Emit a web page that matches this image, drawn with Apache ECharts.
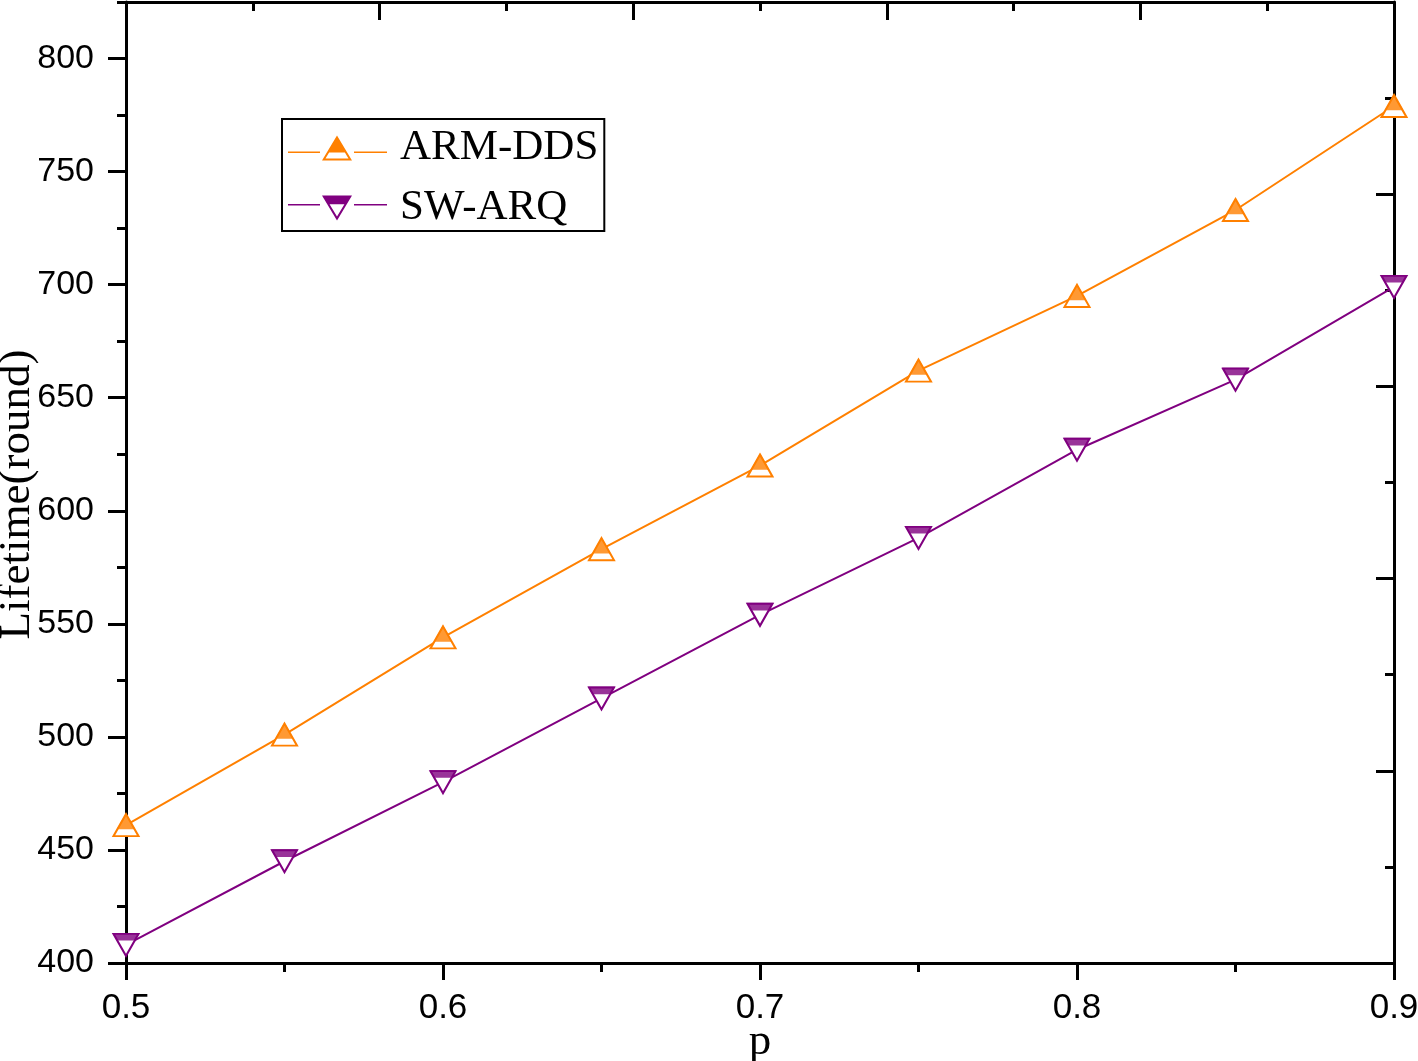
<!DOCTYPE html>
<html><head><meta charset="utf-8">
<script src="https://cdn.jsdelivr.net/npm/echarts@6/dist/echarts.min.js"></script>
<style>html,body{margin:0;padding:0;background:#fff}#c{width:1418px;height:1061px}</style>
</head><body><div id="c"></div>
<script>
const pValues = [0.5, 0.55, 0.6, 0.65, 0.7, 0.75, 0.8, 0.85, 0.9];
const armDds = [461, 501, 544, 583, 620, 662, 695, 733, 779];
const swArq = [408, 445, 480, 517, 554, 588, 627, 658, 699];
const yTickValues = [400, 450, 500, 550, 600, 650, 700, 750, 800];
const yMinorValues = [425, 475, 525, 575, 625, 675, 725, 775, 825];
const seriesNames = ['ARM-DDS', 'SW-ARQ'];

const ORANGE = '#FF8000';
const PURPLE = '#800080';
const BLACK = '#000';

const upIcon = 'path://M0 16.5L32 16.5L32 18L0 18Z' +
  'M49 0.5L59.2 17.5L38.8 17.5Z' +
  'M38.8 17.5L59.2 17.5L64 25.5L34 25.5Z' +
  'M41.1 17.5L37.5 23.5L60.5 23.5L56.9 17.5Z' +
  'M66 16.5L99 16.5L99 18L66 18Z';
const downIcon = 'path://M0 9L32 9L32 10.5L0 10.5Z' +
  'M34 0.5L64 0.5L58.75 9.25L39.25 9.25Z' +
  'M39.25 9.25L58.75 9.25L49 25.5Z' +
  'M41.58 9.25L49 21.6L56.42 9.25Z' +
  'M66 9L99 9L99 10.5L66 10.5Z';
const downTri = 'path://M0 0L10 0L5 10Z';
const downFill = 'path://M0 0L100 0L84 32L16 32Z';

const armData = pValues.map((p, i) => [p, armDds[i]]);
const swData = pValues.map((p, i) => [p, swArq[i]]);

const axLine = {show: true, lineStyle: {color: BLACK, width: 3}};
const tickStyle = {color: BLACK, width: 3};

const chart = echarts.init(document.getElementById('c'), null, {renderer: 'canvas'});
chart.setOption({
  animation: false,
  backgroundColor: '#fff',
  grid: {left: 126, right: 24, top: 2, bottom: 98, containLabel: false, outerBoundsMode: 'none'},
  xAxis: [
    {
      type: 'value', min: 0.5, max: 0.9, interval: 0.1, position: 'bottom',
      axisLine: axLine,
      axisTick: {show: true, inside: false, length: 17, lineStyle: tickStyle},
      minorTick: {show: true, splitNumber: 2, length: 9, lineStyle: tickStyle},
      splitLine: {show: false}, minorSplitLine: {show: false},
      axisLabel: {fontSize: 35, color: BLACK, fontFamily: 'Liberation Sans', margin: 28,
        formatter: v => v.toFixed(1)},
      name: 'p', nameLocation: 'middle', nameGap: 57, nameMoveOverlap: false,
      nameTextStyle: {fontFamily: 'Liberation Serif', fontSize: 45, color: BLACK}
    },
    {
      type: 'value', min: 0, max: 5, interval: 1, position: 'top',
      axisLine: axLine,
      axisTick: {show: true, inside: true, length: 18, lineStyle: tickStyle},
      minorTick: {show: true, splitNumber: 2, length: 9, lineStyle: tickStyle},
      splitLine: {show: false}, minorSplitLine: {show: false},
      axisLabel: {show: false}
    }
  ],
  yAxis: [
    {
      type: 'value', min: 400, max: 825, interval: 50, position: 'left',
      axisLine: axLine,
      axisTick: {show: true, inside: false, length: 18, lineStyle: tickStyle, customValues: yTickValues},
      splitLine: {show: false},
      axisLabel: {fontSize: 34, color: BLACK, fontFamily: 'Liberation Sans', margin: 32, customValues: yTickValues},
      name: 'Lifetime(round)', nameLocation: 'middle', nameGap: 86, nameMoveOverlap: false,
      nameTextStyle: {fontFamily: 'Liberation Serif', fontSize: 45, color: BLACK, padding: [0, 24, 0, 0]}
    },
    {
      type: 'value', min: 0, max: 5, interval: 1, position: 'right',
      axisLine: axLine,
      axisTick: {show: true, inside: true, length: 18, lineStyle: tickStyle},
      minorTick: {show: true, splitNumber: 2, length: 9, lineStyle: tickStyle},
      splitLine: {show: false}, minorSplitLine: {show: false},
      axisLabel: {show: false}
    },
    {
      type: 'value', min: 400, max: 825, position: 'left',
      axisLine: {show: false},
      axisTick: {show: true, inside: false, length: 9, lineStyle: tickStyle, customValues: yMinorValues},
      splitLine: {show: false},
      axisLabel: {show: false}
    }
  ],
  legend: {
    orient: 'vertical', left: 282, top: 119, padding: [7, 6, 1, 6],
    itemGap: 16, itemWidth: 99, itemHeight: 25,
    borderColor: BLACK, borderWidth: 2, backgroundColor: '#fff',
    textStyle: {fontFamily: 'Liberation Serif', fontSize: 43, color: BLACK, lineHeight: 44, padding: [0, 0, 0, 8]},
    data: [
      {name: seriesNames[0], icon: upIcon, itemStyle: {color: ORANGE, borderWidth: 0}},
      {name: seriesNames[1], icon: downIcon, itemStyle: {color: PURPLE, borderWidth: 0}}
    ]
  },
  series: [
    {
      name: seriesNames[0], type: 'line', data: armData,
      symbol: 'triangle', symbolSize: [25, 22],
      itemStyle: {color: '#fff', borderColor: ORANGE, borderWidth: 2},
      lineStyle: {color: ORANGE, width: 2}, z: 2
    },
    {
      name: seriesNames[0] + ' fill', type: 'scatter', data: armData,
      symbol: 'triangle', symbolSize: [18.4, 16.3], symbolOffset: [0, -3.9],
      itemStyle: {color: ORANGE}, silent: true, z: 3
    },
    {
      name: seriesNames[1], type: 'line', data: swData,
      symbol: downTri, symbolSize: [25, 22],
      itemStyle: {color: '#fff', borderColor: PURPLE, borderWidth: 2},
      lineStyle: {color: PURPLE, width: 2}, z: 2
    },
    {
      name: seriesNames[1] + ' fill', type: 'scatter', data: swData,
      symbol: downFill, symbolSize: [27, 7.7], symbolOffset: [0, -8.15],
      itemStyle: {color: PURPLE}, silent: true, z: 3
    }
  ]
});
</script>
</body></html>
